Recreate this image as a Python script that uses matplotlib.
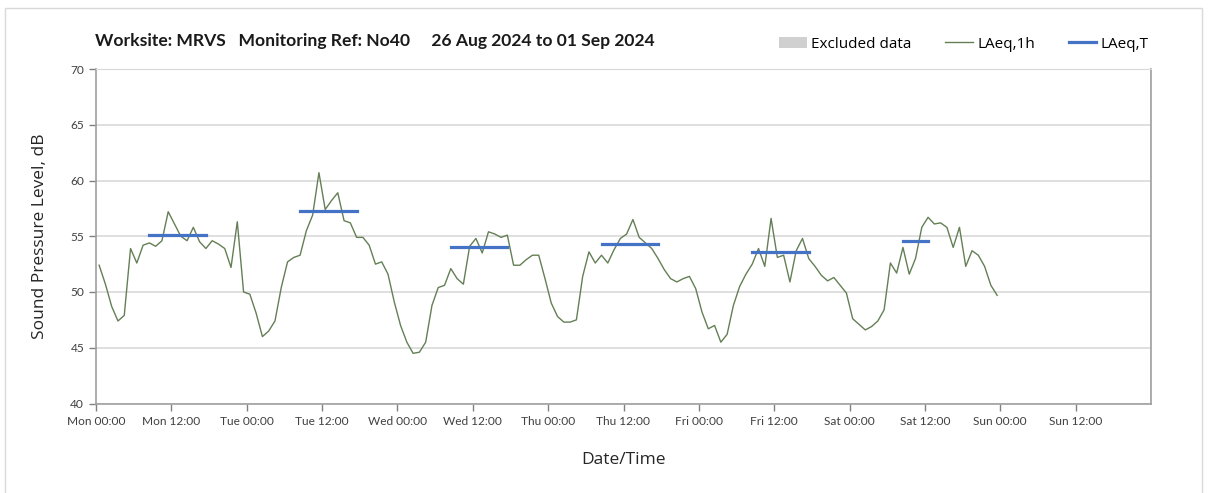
import matplotlib.pyplot as plt
import numpy as np
from matplotlib.lines import Line2D
from matplotlib.patches import Patch, Rectangle

# hourly LAeq,1h values, one list per day (Mon .. Sat), each point at hh:30
mon = [52.4, 50.7, 48.7, 47.4, 47.9, 53.9, 52.6, 54.2, 54.4, 54.1, 54.6, 57.2,
       56.1, 55.0, 54.6, 55.8, 54.5, 53.9, 54.6, 54.3, 53.9, 52.2, 56.3, 50.0]
tue = [49.8, 48.1, 46.0, 46.5, 47.4, 50.4, 52.7, 53.1, 53.3, 55.5, 56.9, 60.7,
       57.4, 58.2, 58.9, 56.4, 56.2, 54.9, 54.9, 54.2, 52.5, 52.7, 51.6, 49.1]
wed = [47.0, 45.5, 44.5, 44.6, 45.5, 48.8, 50.4, 50.6, 52.1, 51.2, 50.7, 54.1,
       54.8, 53.5, 55.4, 55.2, 54.9, 55.1, 52.4, 52.4, 52.9, 53.3, 53.3, 51.2]
thu = [49.0, 47.8, 47.3, 47.3, 47.5, 51.4, 53.6, 52.6, 53.3, 52.6, 53.8, 54.8,
       55.2, 56.5, 54.9, 54.4, 53.9, 53.0, 52.0, 51.2, 50.9, 51.2, 51.4, 50.3]
fri = [48.2, 46.7, 47.0, 45.5, 46.2, 48.8, 50.5, 51.6, 52.5, 53.9, 52.3, 56.6,
       53.1, 53.3, 50.9, 53.7, 54.8, 53.0, 52.3, 51.5, 51.0, 51.3, 50.6, 49.9]
sat = [47.6, 47.1, 46.6, 46.9, 47.4, 48.4, 52.6, 51.7, 54.0, 51.6, 53.0, 55.8,
       56.7, 56.1, 56.2, 55.8, 54.0, 55.8, 52.3, 53.7, 53.3, 52.3, 50.6, 49.7]

# LAeq,T over the working period of each day
period_day = [0, 1, 2, 3, 4, 5]
period_start_h = [8, 8, 8, 8, 8, 8]
period_end_h = [18, 18, 18, 18, 18, 13]
laeq_t = [55.1, 57.3, 54.0, 54.3, 53.6, 54.6]

tick_labels = ["Mon 00:00", "Mon 12:00", "Tue 00:00", "Tue 12:00", "Wed 00:00",
               "Wed 12:00", "Thu 00:00", "Thu 12:00", "Fri 00:00", "Fri 12:00",
               "Sat 00:00", "Sat 12:00", "Sun 00:00", "Sun 12:00"]

levels = np.array(mon + tue + wed + thu + fri + sat)
hours = np.arange(len(levels)) + 0.5

plt.rcParams['font.family'] = ['Lato', 'DejaVu Sans']

fig = plt.figure(figsize=(12.08, 4.93), dpi=100)
ax = fig.add_axes([96 / 1208, 1 - 403.5 / 493, (1151 - 96) / 1208, (403.5 - 69) / 493])

# light frame round the whole chart
fig.patches.append(Rectangle((5 / 1208, -0.1), 1197 / 1208, 1.084,
                             transform=fig.transFigure, fill=False,
                             edgecolor='#d9d9d9', linewidth=1.0))

ax.plot(hours, levels, color='#647f55', linewidth=1.0, zorder=3)
for d, s, e, v in zip(period_day, period_start_h, period_end_h, laeq_t):
    ax.plot([d * 24 + s + 0.5, d * 24 + e - 0.5], [v, v], color='#4472c4',
            linewidth=2.3, solid_capstyle='projecting', zorder=4)

ax.set_xlim(0, 168)
ax.set_ylim(40, 70)
ax.set_xticks(np.arange(0, 168, 12))
ax.set_xticklabels(tick_labels, fontsize=8.6, color='#404040')
ax.set_xticks(np.arange(0, 169, 24), minor=True)
ax.set_yticks(np.arange(40, 71, 5))
ax.tick_params(axis='y', labelsize=8.6, colors='#808080', labelcolor='#404040', length=5, width=1)
ax.tick_params(axis='x', which='major', colors='#808080', labelcolor='#404040', length=5, width=1, pad=4)
ax.tick_params(axis='x', which='minor', length=0)
ax.grid(axis='y', color='#d9d9d9', linewidth=1.2)
ax.grid(axis='x', which='minor', color='#d9d9d9', linewidth=1.2)
ax.grid(axis='x', which='major', visible=False)

for side in ['left', 'right', 'bottom']:
    ax.spines[side].set_color('#a0a0a0')
    ax.spines[side].set_linewidth(1.2)
ax.spines['top'].set_color('#d9d9d9')

ax.set_ylabel("Sound Pressure Level, dB", fontsize=12.5, family=['Open Sans', 'DejaVu Sans'],
              color='#262626', labelpad=16)
ax.set_xlabel("Date/Time", fontsize=12.5, family=['Open Sans', 'DejaVu Sans'],
              color='#262626', labelpad=18)

fig.text(95 / 1208, 1 - 41 / 493,
         "Worksite: MRVS   Monitoring Ref: No40     26 Aug 2024 to 01 Sep 2024",
         fontsize=12.6, fontweight='bold', color='#1a1a1a', va='center')

handles = [Patch(facecolor='#d0d0d0', edgecolor='none'),
           Line2D([], [], color='#647f55', linewidth=1.0),
           Line2D([], [], color='#4472c4', linewidth=2.3)]
fig.legend(handles, ["Excluded data", "LAeq,1h", "LAeq,T"], loc='center',
           bbox_to_anchor=(964 / 1208, 1 - 44 / 493), ncol=3, frameon=False,
           prop={'family': ['Open Sans', 'DejaVu Sans'], 'size': 11},
           handlelength=1.8, handletextpad=0.3, columnspacing=2.2)

fig.savefig("out.png", dpi=100)
